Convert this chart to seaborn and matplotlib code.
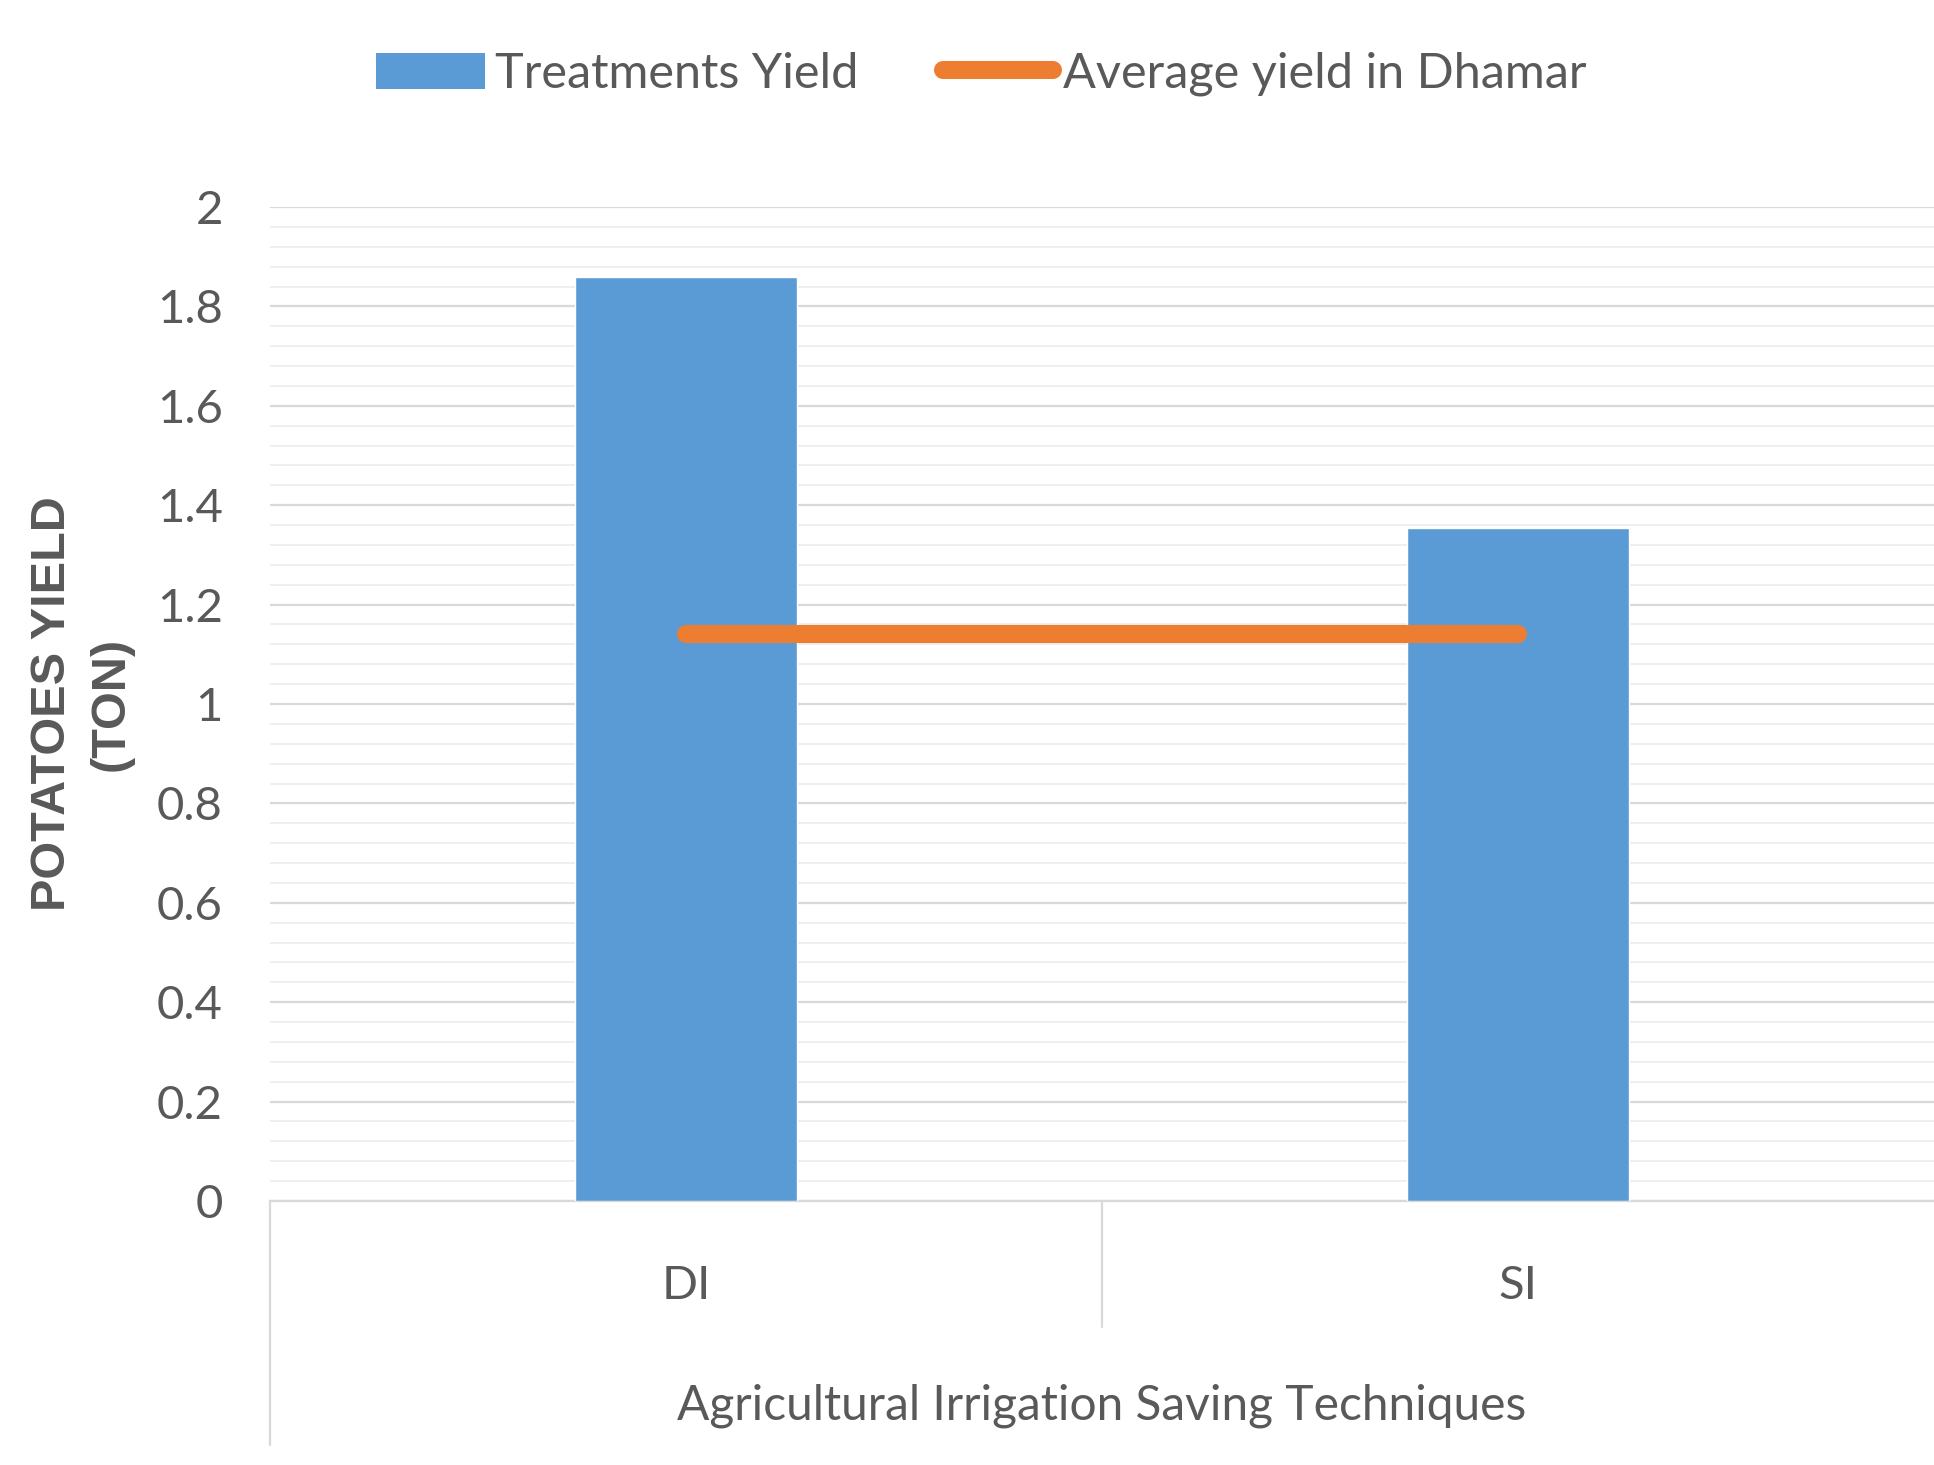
import numpy as np
import matplotlib
matplotlib.use("Agg")
import matplotlib.pyplot as plt
import matplotlib.transforms as mtransforms
from matplotlib.patches import Patch
from matplotlib.lines import Line2D
from matplotlib.ticker import MultipleLocator, FixedLocator
import seaborn as sns

# Data
categories = ["DI", "SI"]
treatment_yield = [1.86, 1.355]
average_yield = [1.14, 1.14]
ytick_values = [0, 0.2, 0.4, 0.6, 0.8, 1.0, 1.2, 1.4, 1.6, 1.8, 2.0]
ytick_labels = ["0", "0.2", "0.4", "0.6", "0.8", "1", "1.2", "1.4", "1.6", "1.8", "2"]
series_names = ["Treatments Yield", "Average yield in Dhamar"]
xlabel = "Agricultural Irrigation Saving Techniques"
ylabel = "POTATOES YIELD\n(TON)"

BLUE = "#5B9BD5"
ORANGE = "#ED7D31"
TEXT = "#595959"
GRID = "#D9D9D9"
MINOR = "#EEEEEE"

sns.set_theme(style="white")
plt.rcParams["font.family"] = ["Lato", "DejaVu Sans"]

W, H = 1934, 1465
fig = plt.figure(figsize=(W / 100, H / 100), dpi=100)
left, right, top, bottom = 270, 1934, 207, 1201
ax = fig.add_axes([left / W, 1 - bottom / H, (right - left) / W, (bottom - top) / H])

sns.barplot(x=categories, y=treatment_yield, color=BLUE, width=0.268,
            saturation=1, ax=ax, zorder=3)
positions = np.arange(len(categories))
sns.lineplot(x=positions, y=average_yield, color=ORANGE, linewidth=13,
             solid_capstyle="round", ax=ax, zorder=4)

ax.set_xlim(-0.5, len(categories) - 0.5)
ax.set_ylim(0, 2)

# gridlines
ax.yaxis.set_major_locator(FixedLocator(ytick_values))
ax.set_yticklabels(ytick_labels)
ax.yaxis.set_minor_locator(MultipleLocator(0.04))
ax.grid(axis="y", which="major", color=GRID, linewidth=1.6, zorder=0)
ax.grid(axis="y", which="minor", color=MINOR, linewidth=1.3, zorder=0)
ax.grid(axis="x", visible=False)
ax.set_axisbelow(True)

for side in ["top", "right", "left"]:
    ax.spines[side].set_visible(False)
ax.spines["bottom"].set_color(GRID)
ax.spines["bottom"].set_linewidth(1.6)

ax.tick_params(axis="y", which="both", length=0, labelsize=34, labelcolor=TEXT, pad=34)
ax.tick_params(axis="x", which="both", length=0, labelsize=34, labelcolor=TEXT, pad=46)

# category axis boxes below the plot
trans = mtransforms.blended_transform_factory(ax.transData, ax.transAxes)
ax.plot([-0.5, -0.5], [0, -0.2455], transform=trans, color=GRID, lw=1.6, clip_on=False)
ax.plot([0.5, 0.5], [0, -0.127], transform=trans, color=GRID, lw=1.6, clip_on=False)

ax.text(0.5, -0.206, xlabel, transform=trans, ha="center", va="center",
        fontsize=34.5, color=TEXT)

ax.set_xlabel("")
ax.set_ylabel(ylabel, fontsize=35, color=TEXT, fontweight="bold",
              family=["Liberation Sans", "DejaVu Sans"], linespacing=1.4)
ax.yaxis.set_label_coords(-(left - 134) / (right - left), 0.5)

handles = [Patch(facecolor=BLUE, edgecolor="none"),
           Line2D([0], [0], color=ORANGE, lw=13, solid_capstyle="round")]
fig.legend(handles, series_names, loc="center", bbox_to_anchor=(981 / W, 1 - 74 / H),
           ncol=2, frameon=False, fontsize=35, labelcolor=TEXT,
           handlelength=2.25, handleheight=0.75, handletextpad=0.2, columnspacing=1.75)

fig.savefig("out.png", dpi=100, facecolor="white")
